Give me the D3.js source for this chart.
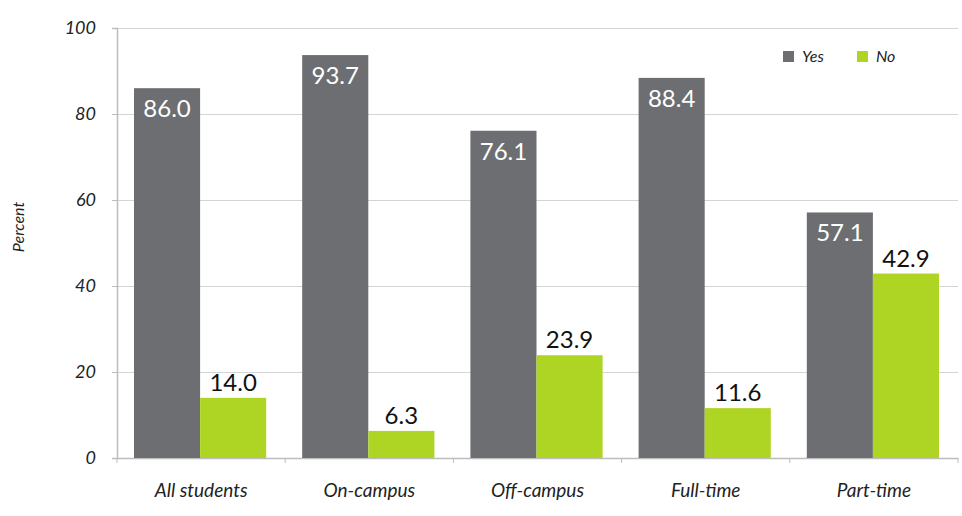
<!DOCTYPE html>
<html>
<head>
<style>
  body { margin: 0; background: #fff; }
  svg { display: block; font-family: Lato, "Open Sans", sans-serif; }
</style>
</head>
<body>
<svg width="962" height="516"></svg>
<script src="https://d3js.org/d3.v7.min.js"></script>
<script>

var categories = ["All students", "On-campus", "Off-campus", "Full-time", "Part-time"];
var seriesNames = ["Yes", "No"];
var yesValues = [86.0, 93.7, 76.1, 88.4, 57.1];
var noValues = [14.0, 6.3, 23.9, 11.6, 42.9];
var yTicks = [0, 20, 40, 60, 80, 100];

var colors = {Yes: "#6d6e71", No: "#aed424"};

var svg = d3.select("svg"),
    margin = {top: 28, right: 4, bottom: 58, left: 117},
    width = +svg.attr("width") - margin.left - margin.right,
    height = +svg.attr("height") - margin.top - margin.bottom,
    g = svg.append("g").attr("transform", "translate(" + margin.left + "," + margin.top + ")");

var data = categories.map(function(c, i) {
  return {cat: c, Yes: yesValues[i], No: noValues[i]};
});

var x0 = d3.scaleBand()
    .domain(categories)
    .range([0, width])
    .paddingInner(0)
    .paddingOuter(0);

var x1 = d3.scaleBand()
    .domain(seriesNames)
    .range([17, x0.bandwidth() - 19]);

var y = d3.scaleLinear()
    .domain([0, 100])
    .range([height, 0]);

// gridlines
g.append("g")
  .selectAll("line")
  .data(yTicks.filter(function(d) { return d > 0; }))
  .enter().append("line")
    .attr("x1", 0)
    .attr("x2", width)
    .attr("y1", function(d) { return y(d) + 0.5; })
    .attr("y2", function(d) { return y(d) + 0.5; })
    .attr("stroke", "#d4d4d4")
    .attr("stroke-width", 1.2);

// y axis
var yAxis = g.append("g")
    .attr("font-family", null)
    .call(d3.axisLeft(y).tickValues(yTicks).tickSize(5).tickPadding(16));
yAxis.attr("font-family", "Lato, sans-serif");
yAxis.select(".domain").attr("stroke", "#bdbdbd").attr("stroke-width", 1.5);
yAxis.selectAll(".tick line").attr("stroke", "#bdbdbd");
yAxis.selectAll("text")
    .attr("font-size", 18)
    .attr("font-style", "italic")
    .attr("fill", "#222");

// x axis
var xAxis = g.append("g")
    .attr("transform", "translate(0," + height + ")")
    .call(d3.axisBottom(x0).tickSize(0).tickPadding(26));
xAxis.attr("font-family", "Lato, sans-serif");
xAxis.select(".domain").attr("stroke", "#bdbdbd").attr("stroke-width", 1.5);
xAxis.selectAll("text")
    .attr("font-size", 19)
    .attr("font-style", "italic")
    .attr("fill", "#222");

// x tick marks at band boundaries
g.append("g")
  .selectAll("line")
  .data(d3.range(categories.length + 1))
  .enter().append("line")
    .attr("x1", function(i) { return i * x0.step(); })
    .attr("x2", function(i) { return i * x0.step(); })
    .attr("y1", height)
    .attr("y2", height + 5)
    .attr("stroke", "#bdbdbd");

// bars
var groups = g.append("g")
  .selectAll("g")
  .data(data)
  .enter().append("g")
    .attr("transform", function(d) { return "translate(" + x0(d.cat) + ",0)"; });

groups.selectAll("rect")
  .data(function(d) { return seriesNames.map(function(k) { return {key: k, value: d[k]}; }); })
  .enter().append("rect")
    .attr("x", function(d) { return x1(d.key); })
    .attr("y", function(d) { return y(d.value); })
    .attr("width", x1.bandwidth())
    .attr("height", function(d) { return height - y(d.value); })
    .attr("fill", function(d) { return colors[d.key]; });

groups.selectAll("text.val")
  .data(function(d) { return seriesNames.map(function(k) { return {key: k, value: d[k]}; }); })
  .enter().append("text")
    .attr("class", "val")
    .attr("x", function(d) { return x1(d.key) + x1.bandwidth() / 2; })
    .attr("y", function(d) { return d.key === "Yes" ? y(d.value) + 29 : y(d.value) - 7; })
    .attr("text-anchor", "middle")
    .attr("font-size", 24)
    .attr("fill", function(d) { return d.key === "Yes" ? "#fff" : "#111"; })
    .text(function(d) { return d.value.toFixed(1); });

// y label
svg.append("text")
    .attr("transform", "translate(24," + (margin.top + height / 2 - 16) + ") rotate(-90)")
    .attr("text-anchor", "middle")
    .attr("font-size", 16)
    .attr("font-style", "italic")
    .attr("fill", "#222")
    .text("Percent");

// legend
var legend = svg.append("g")
  .selectAll("g")
  .data(seriesNames)
  .enter().append("g")
    .attr("transform", function(d, i) { return "translate(" + (783 + i * 74) + ",51)"; });

legend.append("rect")
    .attr("width", 11)
    .attr("height", 11)
    .attr("fill", function(d) { return colors[d]; });

legend.append("text")
    .attr("x", 19)
    .attr("y", 11)
    .attr("font-size", 16)
    .attr("font-style", "italic")
    .attr("fill", "#222")
    .text(function(d) { return d; });

</script>
</body>
</html>
